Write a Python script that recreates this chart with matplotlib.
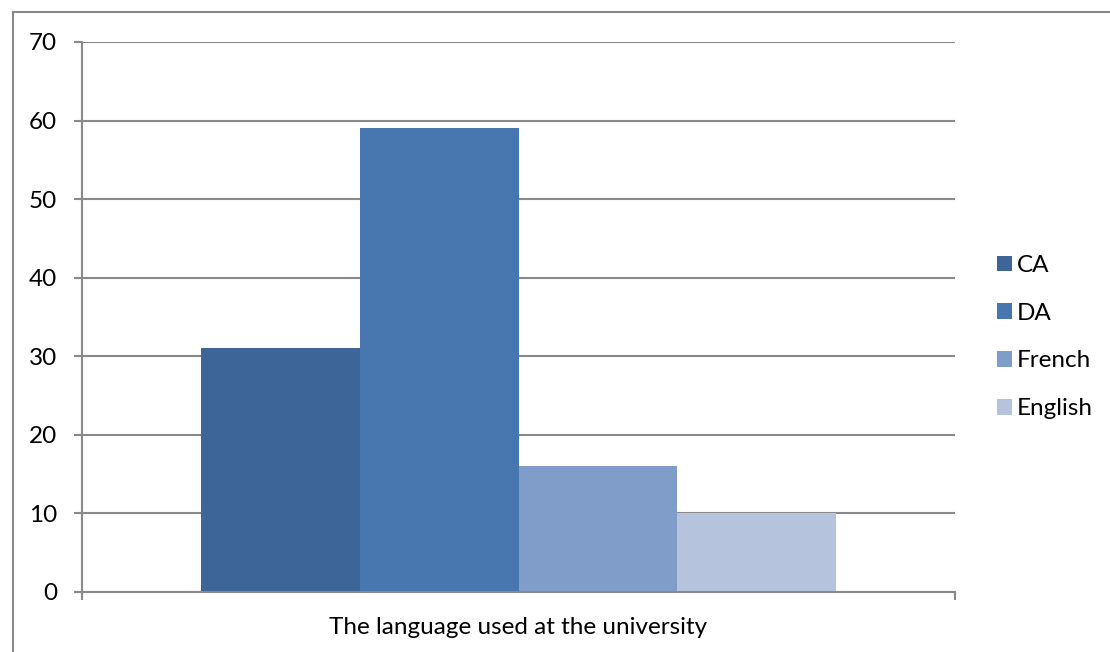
import matplotlib
matplotlib.use("Agg")
import matplotlib.pyplot as plt
from matplotlib.lines import Line2D
from matplotlib.patches import Patch

# Survey: language used at the university
category = "The language used at the university"
series = ["CA", "DA", "French", "English"]
values = [31, 59, 16, 10]
colors = ["#3d6597", "#4877b0", "#7f9dc8", "#b5c3dd"]
y_ticks = [0, 10, 20, 30, 40, 50, 60, 70]

plt.rcParams["font.family"] = ["Lato", "DejaVu Sans"]
grid_color = "#898989"
fs = 17.5

fig = plt.figure(figsize=(11.10, 6.52), dpi=100)
ax = fig.add_axes([82 / 1110, 60 / 652, 873 / 1110, 550 / 652])

bar_w = 0.1816
n = len(series)
for i, (name, v, c) in enumerate(zip(series, values, colors)):
    x = 0.5 + (i - (n - 1) / 2) * bar_w
    ax.bar(x, v, width=bar_w, color=c, label=name, zorder=3, linewidth=0)

ax.set_xlim(0, 1)
ax.set_ylim(0, 70)
ax.set_yticks(y_ticks)
ax.set_yticklabels([str(t) for t in y_ticks], fontsize=fs)
ax.set_xticks([0, 1])
ax.set_xticklabels(["", ""])
ax.tick_params(axis="y", direction="out", length=6, width=1.5, color=grid_color, pad=12)
ax.tick_params(axis="x", direction="out", length=6, width=1.5, color=grid_color)

for s in ["top", "right"]:
    ax.spines[s].set_visible(False)
for s in ["left", "bottom"]:
    ax.spines[s].set_color(grid_color)
    ax.spines[s].set_linewidth(1.5)
ax.spines["bottom"].set_zorder(4)

ax.yaxis.grid(True, color=grid_color, linewidth=1.5, zorder=1)
ax.set_axisbelow(True)

fig.text(518 / 1110, (652 - 627) / 652, category, ha="center", va="center", fontsize=fs)

handles = [Patch(facecolor=c, edgecolor="none") for c in colors]
fig.legend(handles, series, loc="center left", bbox_to_anchor=(987 / 1110, 0.483),
           frameon=False, fontsize=fs, handlelength=0.62, handleheight=0.62,
           handletextpad=0.2, labelspacing=1.1, borderaxespad=0)

# outer chart frame
fig.add_artist(Line2D([13 / 1110, 13 / 1110], [0, 1 - 12 / 652], color=grid_color, linewidth=1.5,
                      transform=fig.transFigure))
fig.add_artist(Line2D([13 / 1110, 1], [1 - 12 / 652, 1 - 12 / 652], color=grid_color, linewidth=1.5,
                      transform=fig.transFigure))

fig.savefig("out.png", dpi=100, facecolor="white")
